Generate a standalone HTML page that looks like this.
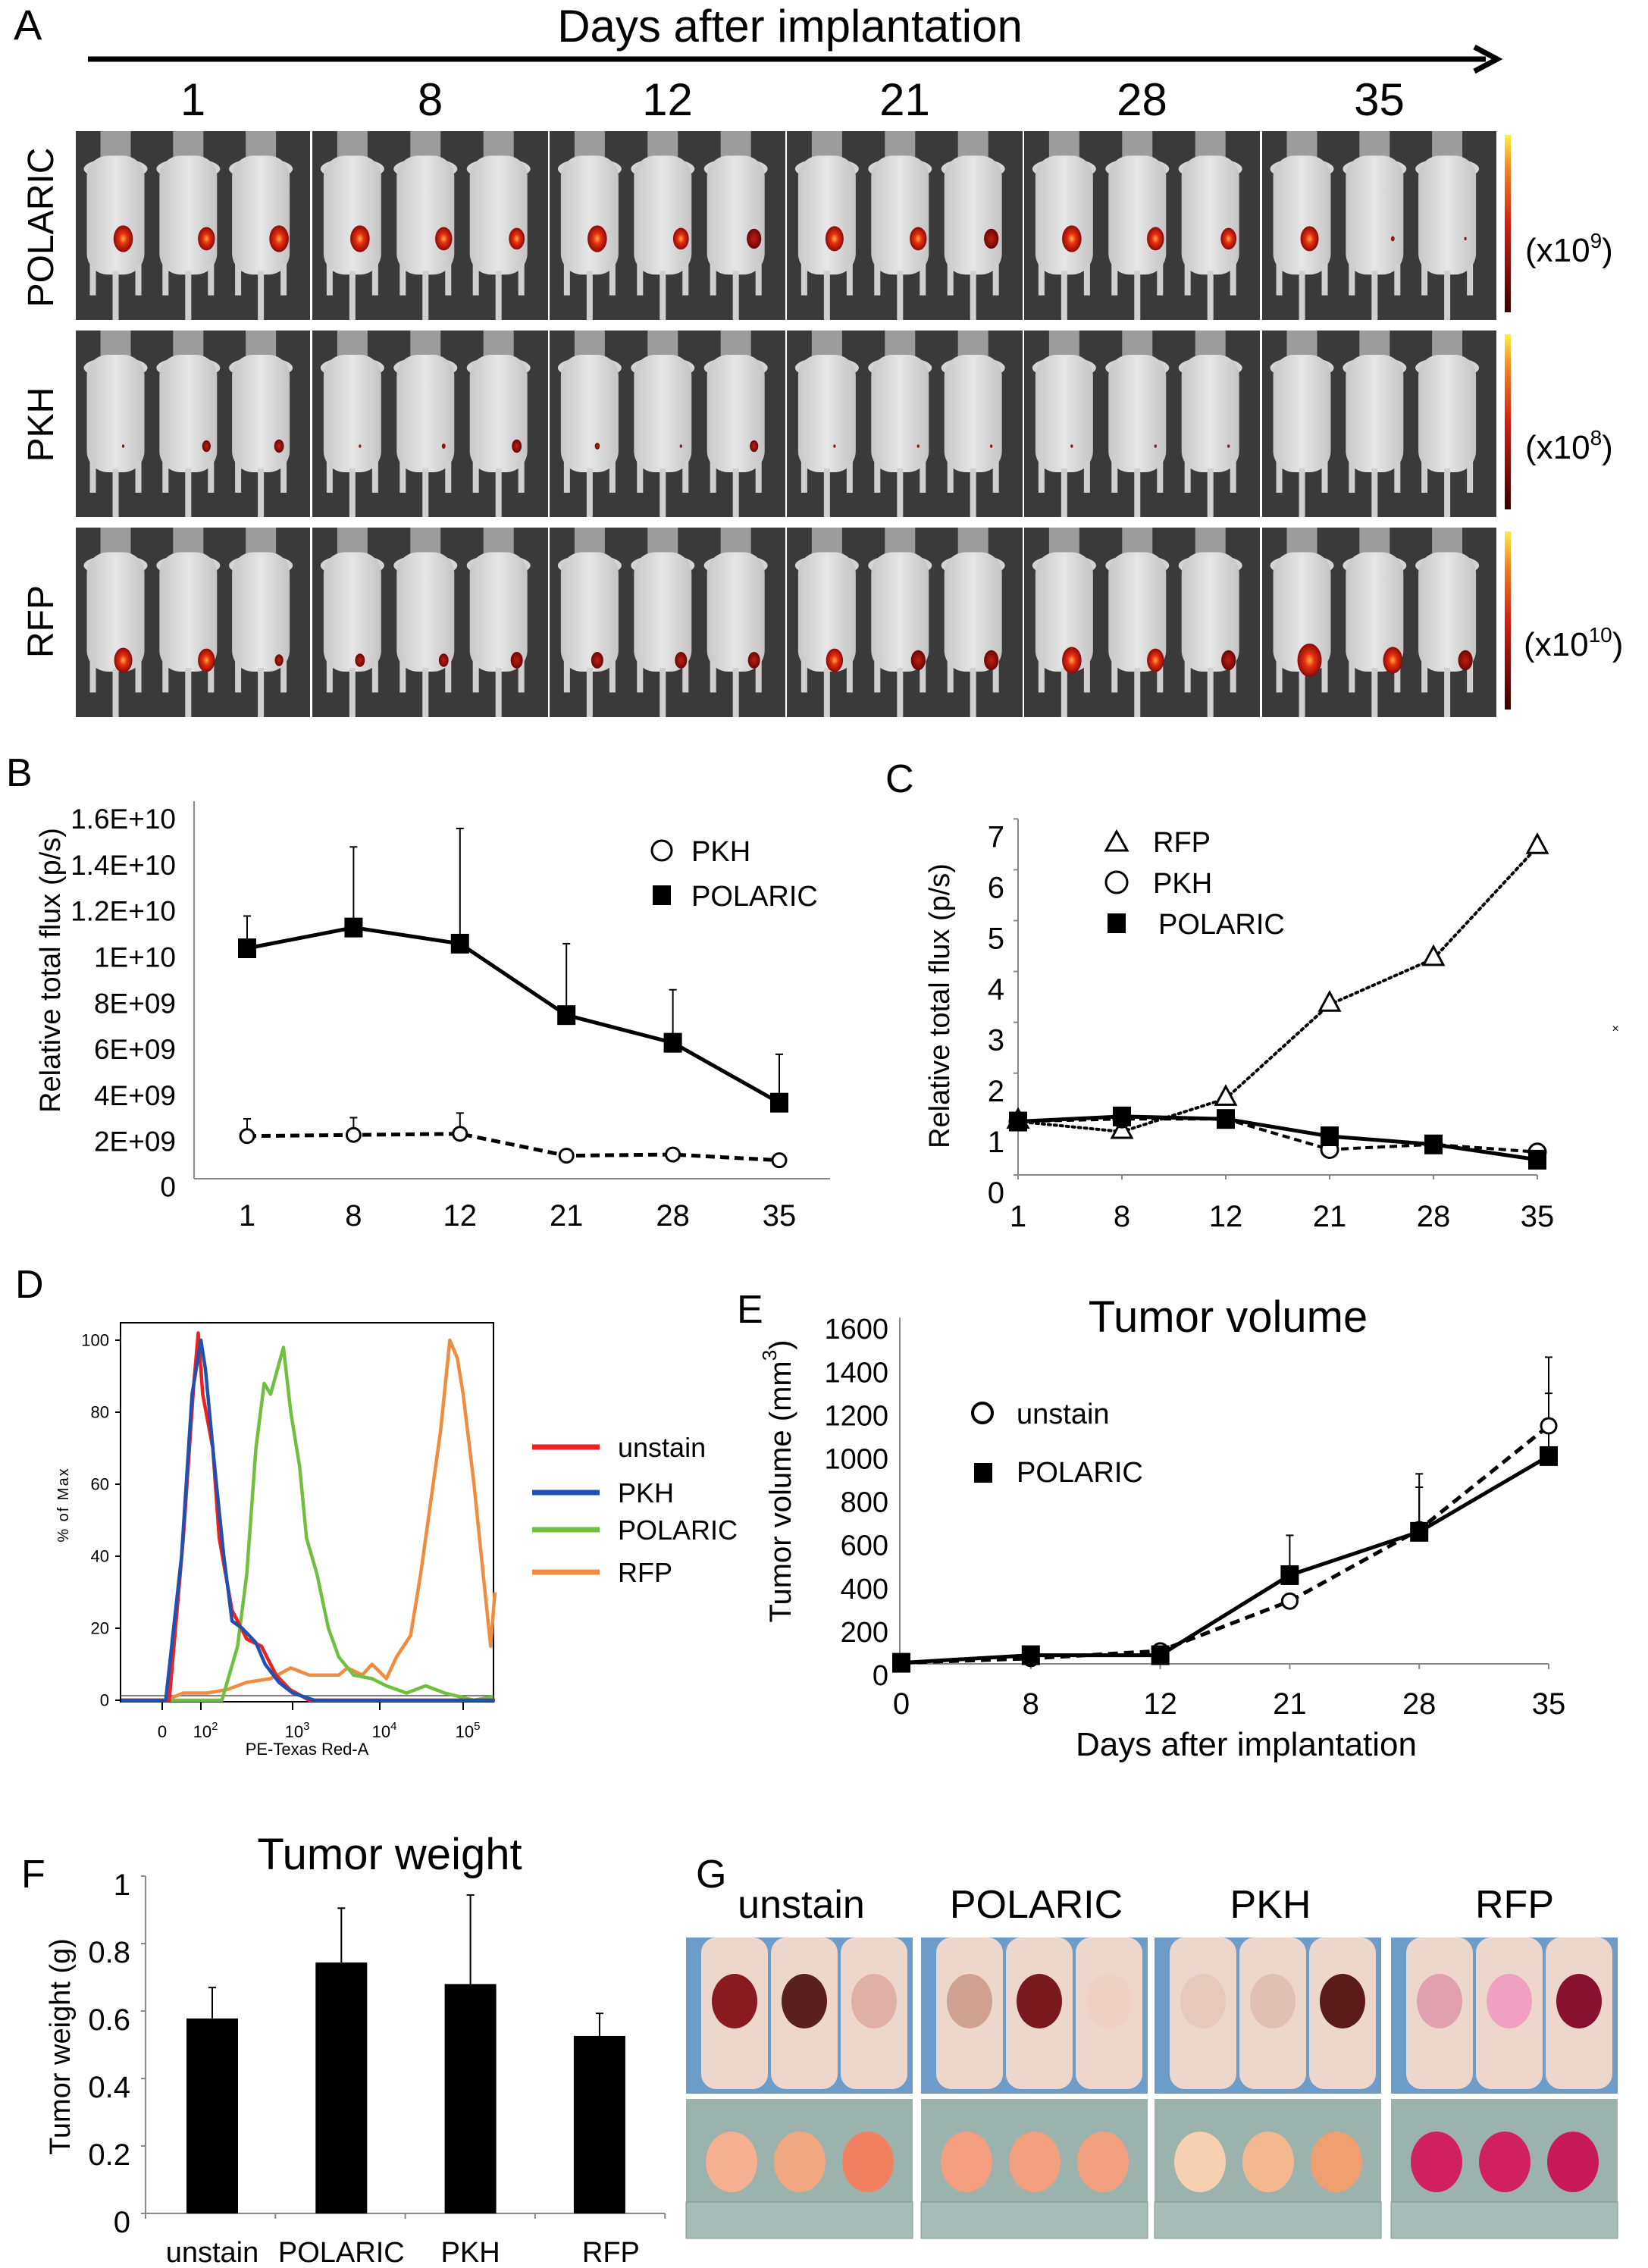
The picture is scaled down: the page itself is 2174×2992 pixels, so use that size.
<!DOCTYPE html>
<html><head><meta charset="utf-8"><style>
html,body{margin:0;padding:0;background:#fff}
svg{display:block}
text{font-family:"Liberation Sans",sans-serif;fill:#000}
</style></head><body>
<svg id="fig" xmlns="http://www.w3.org/2000/svg" width="2174" height="2992" viewBox="0 0 2174 2992">
<defs>
<linearGradient id="cbar" x1="0" y1="1" x2="0" y2="0"><stop offset="0" stop-color="#3a0000"/><stop offset="0.5" stop-color="#d02010"/><stop offset="0.8" stop-color="#f08020"/><stop offset="1" stop-color="#fff040"/></linearGradient>
<radialGradient id="blob"><stop offset="0" stop-color="#ffb040"/><stop offset="0.4" stop-color="#e83010"/><stop offset="1" stop-color="#8a0a08"/></radialGradient>
<radialGradient id="blobd"><stop offset="0" stop-color="#c02010"/><stop offset="1" stop-color="#6a0606"/></radialGradient>
<linearGradient id="mbody" x1="0" y1="0" x2="1" y2="0"><stop offset="0" stop-color="#c8c8c8"/><stop offset="0.5" stop-color="#e6e6e6"/><stop offset="1" stop-color="#c4c4c4"/></linearGradient>
</defs>
<!-- Panel A static -->
<text x="18" y="52" font-size="56">A</text>
<text x="1042" y="55" font-size="60" text-anchor="middle">Days after implantation</text>
<line x1="116" y1="78" x2="1960" y2="78" stroke="#000" stroke-width="7"/>
<polyline points="1945,62 1975,78 1945,94" fill="none" stroke="#000" stroke-width="7"/>
<g id="aGroup"></g>
<text transform="translate(70,300) rotate(-90)" font-size="48" text-anchor="middle">POLARIC</text>
<text transform="translate(70,560) rotate(-90)" font-size="48" text-anchor="middle">PKH</text>
<text transform="translate(70,820) rotate(-90)" font-size="48" text-anchor="middle">RFP</text>
<text x="2012" y="345" font-size="44">(x10<tspan font-size="28" dy="-18">9</tspan><tspan dy="18">)</tspan></text>
<text x="2012" y="605" font-size="44">(x10<tspan font-size="28" dy="-18">8</tspan><tspan dy="18">)</tspan></text>
<text x="2010" y="865" font-size="44">(x10<tspan font-size="28" dy="-18">10</tspan><tspan dy="18">)</tspan></text>

<!-- Panel B static -->
<text x="8" y="1037" font-size="52">B</text>
<text transform="translate(67,1280) rotate(-90)" font-size="38" text-anchor="middle" dominant-baseline="central">Relative total flux (p/s)</text>
<g id="bChart"></g>
<circle cx="873" cy="1122" r="13" fill="#fff" stroke="#000" stroke-width="3"/>
<text x="912" y="1136" font-size="38">PKH</text>
<rect x="861" y="1168" width="24" height="26" fill="#000"/>
<text x="912" y="1195" font-size="38">POLARIC</text>

<!-- Panel C static -->
<text x="1168" y="1045" font-size="52">C</text>
<text transform="translate(1240,1327) rotate(-90)" font-size="38" text-anchor="middle" dominant-baseline="central">Relative total flux (p/s)</text>
<g id="cChart"></g>
<polygon points="1473,1097 1459,1122 1487,1122" fill="#fff" stroke="#000" stroke-width="3"/>
<text x="1521" y="1124" font-size="38">RFP</text>
<circle cx="1473" cy="1164" r="14" fill="#fff" stroke="#000" stroke-width="3"/>
<text x="1521" y="1178" font-size="38">PKH</text>
<rect x="1461" y="1205" width="24" height="26" fill="#000"/>
<text x="1528" y="1232" font-size="38">POLARIC</text>
<text x="2131" y="1362" font-size="16" text-anchor="middle" fill="#555">×</text>

<!-- Panel D static -->
<text x="20" y="1712" font-size="52">D</text>
<text transform="translate(90,1985) rotate(-90)" font-size="20" text-anchor="middle" letter-spacing="2">% of Max</text>
<text x="405" y="2315" font-size="22" text-anchor="middle">PE-Texas Red-A</text>
<g id="dChart"></g>
<line x1="702" y1="1909" x2="791" y2="1909" stroke="#ee2020" stroke-width="7"/>
<text x="815" y="1922" font-size="36">unstain</text>
<line x1="702" y1="1969" x2="791" y2="1969" stroke="#2050b0" stroke-width="7"/>
<text x="815" y="1982" font-size="36">PKH</text>
<line x1="702" y1="2018" x2="791" y2="2018" stroke="#70c040" stroke-width="7"/>
<text x="815" y="2031" font-size="36">POLARIC</text>
<line x1="702" y1="2074" x2="791" y2="2074" stroke="#f08c40" stroke-width="7"/>
<text x="815" y="2087" font-size="36">RFP</text>

<!-- Panel E static -->
<text x="972" y="1745" font-size="52">E</text>
<text x="1620" y="1757" font-size="58" text-anchor="middle">Tumor volume</text>
<text transform="translate(1030,1954) rotate(-90)" font-size="40" text-anchor="middle" dominant-baseline="central">Tumor volume (mm<tspan font-size="26" dy="-15">3</tspan><tspan dy="15">)</tspan></text>
<text x="1644" y="2316" font-size="44" text-anchor="middle">Days after implantation</text>
<g id="eChart"></g>
<circle cx="1296" cy="1864" r="13" fill="#fff" stroke="#000" stroke-width="4"/>
<text x="1341" y="1878" font-size="38">unstain</text>
<rect x="1285" y="1930" width="24" height="26" fill="#000"/>
<text x="1341" y="1955" font-size="38">POLARIC</text>

<!-- Panel F static -->
<text x="28" y="2490" font-size="52">F</text>
<text x="514" y="2466" font-size="58" text-anchor="middle">Tumor weight</text>
<text transform="translate(80,2700) rotate(-90)" font-size="38" text-anchor="middle" dominant-baseline="central">Tumor weight (g)</text>
<g id="fChart"></g>

<!-- Panel G static -->
<text x="918" y="2490" font-size="52">G</text>
<text x="1057" y="2530" font-size="52" text-anchor="middle">unstain</text>
<text x="1367" y="2530" font-size="52" text-anchor="middle">POLARIC</text>
<text x="1676" y="2530" font-size="52" text-anchor="middle">PKH</text>
<text x="1998" y="2530" font-size="52" text-anchor="middle">RFP</text>
<g id="gGroup"></g>
</svg>
<script>
const NS = 'http://www.w3.org/2000/svg';
function mk(tag, attrs, parent) {
  const e = document.createElementNS(NS, tag);
  for (const k in attrs) e.setAttribute(k, attrs[k]);
  parent.appendChild(e);
  return e;
}

// ---------------- Chart B data ----------------
const bDays = ['1', '8', '12', '21', '28', '35'];
const bPolaric = [10.0, 10.9, 10.2, 7.1, 5.9, 3.3];      // x1e9
const bPolaricErr = [11.4, 14.4, 15.2, 10.2, 8.2, 5.4];
const bPkh = [1.85, 1.9, 1.95, 1.0, 1.05, 0.8];
const bPkhErr = [2.6, 2.65, 2.85, 1.0, 1.1, 0.8];
const bTickVals = [0, 2, 4, 6, 8, 10, 12, 14, 16];
const bTickLabels = ['0', '2E+09', '4E+09', '6E+09', '8E+09', '1E+10', '1.2E+10', '1.4E+10', '1.6E+10'];

// ---------------- Chart C data ----------------
const cDays = ['1', '8', '12', '21', '28', '35'];
const cRfp = [1.05, 0.85, 1.5, 3.35, 4.25, 6.45];
const cPkh = [1.05, 1.1, 1.1, 0.5, 0.6, 0.45];
const cPolaric = [1.05, 1.15, 1.1, 0.76, 0.6, 0.3];
const cTicks = [0, 1, 2, 3, 4, 5, 6, 7];

// ---------------- Chart D data (u = log10 intensity) ----------------
const dUnstainU = [1.0, 1.64, 1.8, 1.92, 1.97, 2.02, 2.13, 2.2, 2.34, 2.5, 2.66, 2.82, 2.97, 3.19, 5.38];
const dUnstainV = [0, 0, 45, 88, 102, 85, 70, 45, 25, 17, 15, 7, 3, 0, 0];
const dPkhU = [1.0, 1.6, 1.78, 1.9, 2.0, 2.05, 2.15, 2.25, 2.34, 2.45, 2.6, 2.7, 2.85, 3.0, 3.25, 5.38];
const dPkhV = [0, 0, 40, 85, 100, 92, 65, 40, 22, 20, 16, 10, 5, 2, 0, 0];
const dPolaricU = [1.0, 2.23, 2.4, 2.5, 2.6, 2.69, 2.76, 2.9, 2.98, 3.08, 3.16, 3.28, 3.41, 3.53, 3.7, 3.91, 4.08, 4.32, 4.55, 4.78, 5.13, 5.36];
const dPolaricV = [0, 0, 15, 35, 70, 88, 85, 98, 80, 65, 45, 35, 20, 12, 7, 6, 4, 2, 4, 2, 0, 1];
const dRfpU = [1.0, 1.6, 1.8, 2.07, 2.29, 2.5, 2.76, 2.98, 3.19, 3.53, 3.63, 3.8, 3.91, 4.08, 4.2, 4.37, 4.49, 4.61, 4.73, 4.84, 4.93, 5.0, 5.13, 5.24, 5.33, 5.38];
const dRfpV = [0, 0, 2, 2, 3, 5, 6, 9, 7, 7, 9, 7, 10, 6, 12, 18, 35, 55, 75, 100, 95, 85, 60, 35, 15, 30];
const dYTicks = [0, 20, 40, 60, 80, 100];

// ---------------- Chart E data ----------------
const eDays = ['0', '8', '12', '21', '28', '35'];
const eUnstain = [5, 25, 60, 290, 620, 1100];
const eUnstainErr = [5, 25, 60, 290, 816, 1250];
const ePolaric = [5, 40, 40, 410, 610, 960];
const ePolaricErr = [5, 40, 40, 594, 878, 1417];
const eTicks = [0, 200, 400, 600, 800, 1000, 1200, 1400, 1600];

// ---------------- Chart F data ----------------
const fGroups = ['unstain', 'POLARIC', 'PKH', 'RFP'];
const fWeight = [0.578, 0.744, 0.68, 0.526];
const fErr = [0.67, 0.905, 0.944, 0.593];
const fTicks = ['0', '0.2', '0.4', '0.6', '0.8', '1'];
const fTickVals = [0, 0.2, 0.4, 0.6, 0.8, 1];

// ================= Panel A (imaging) =================
const A = document.getElementById('aGroup');
const aDayLabels = ['1', '8', '12', '21', '28', '35'];
const aColX = [100, 412, 725, 1038, 1351, 1665];
const aColW = [309, 311, 311, 311, 311, 309];
const aRowY = [173, 436, 696];
const aRowH = [249, 246, 250];
const aBlobs = [
  [[16,14,16],[16,14,13],[16,13,12],[15,14,12],[16,14,13],[15,3,2]],
  [[2,7,8],[2,3,8],[4,2,7],[2,2,2],[2,2,2],[0,0,0]],
  [[15,14,7],[8,8,10],[10,10,10],[14,12,12],[16,14,12],[20,16,12]]
];
const aBlobDy = [0.57, 0.62, 0.7];
for (let c = 0; c < 6; c++) {
  const t = mk('text', {x: aColX[c] + aColW[c] / 2, y: 152, 'font-size': 60, 'text-anchor': 'middle'}, A);
  
  
  t.textContent = aDayLabels[c];
  for (let r = 0; r < 3; r++) {
    const bg = mk('rect', {x: aColX[c], y: aRowY[r], width: aColW[c], height: aRowH[r], fill: '#3a3a3a'}, A);
    
    
    for (let m = 0; m < 3; m++) {
      const cx = aColX[c] + aColW[c] * (0.17 + m * 0.31);
      const top = aRowY[r];
      const h = aRowH[r];
      const tube = mk('rect', {x: cx - 20, y: top, width: 40, height: h * 0.16, fill: '#9c9c9c'}, A);
      
      
      const head = mk('ellipse', {cx: cx, cy: top + h * 0.2, rx: 42, ry: 14, fill: '#d4d4d4'}, A);
      
      
      const body = mk('rect', {x: cx - 38, y: top + h * 0.13, width: 76, height: h * 0.63, rx: 28, fill: 'url(#mbody)'}, A);
      
      
      const legL = mk('rect', {x: cx - 34, y: top + h * 0.7, width: 8, height: h * 0.17, fill: '#cfcfcf'}, A);
      
      
      const legR = mk('rect', {x: cx + 26, y: top + h * 0.7, width: 8, height: h * 0.17, fill: '#cfcfcf'}, A);
      
      
      const tail = mk('rect', {x: cx - 4, y: top + h * 0.74, width: 8, height: h * 0.26, fill: '#d0d0d0'}, A);
      
      
      const br = aBlobs[r][c][m];
      if (br > 0) {
        const b = mk('ellipse', {cx: cx + (m === 0 ? 10 : 24), cy: top + h * aBlobDy[r], rx: br * 0.8, ry: br * 1.1, fill: br > 12 ? 'url(#blob)' : 'url(#blobd)'}, A);
        
        
      }
    }
  }
}
for (let r = 0; r < 3; r++) {
  const cb = mk('rect', {x: 1985, y: aRowY[r] + 5, width: 8, height: aRowH[r] - 15, fill: 'url(#cbar)'}, A);
  
  
}

// ================= Chart B =================
const B = document.getElementById('bChart');
const xB = i => 326 + i * 140.4;
const yB = v => 1555 - v * 30.4;
let ln = mk('line', {x1: 256, y1: 1057, x2: 256, y2: 1555, stroke: '#888', 'stroke-width': 2}, B);


ln = mk('line', {x1: 256, y1: 1555, x2: 1095, y2: 1555, stroke: '#888', 'stroke-width': 2}, B);


bTickVals.forEach((v, k) => {
  const t = mk('text', {x: 232, y: yB(v) + (v === 0 ? 11 : 12), 'font-size': 37, 'text-anchor': 'end', 'dominant-baseline': 'central'}, B);
  
  
  t.textContent = bTickLabels[k];
});
bDays.forEach((d, i) => {
  const t = mk('text', {x: xB(i), y: 1617, 'font-size': 40, 'text-anchor': 'middle'}, B);
  
  
  t.textContent = d;
});
function errBar(P, x, y1, y2, name) {
  const l = mk('line', {x1: x, y1: y1, x2: x, y2: y2, stroke: '#000', 'stroke-width': 2}, P);
  
  
  const c = mk('line', {x1: x - 5, y1: y2, x2: x + 5, y2: y2, stroke: '#000', 'stroke-width': 2}, P);
  
  
}
bPolaric.forEach((v, i) => errBar(B, xB(i), yB(v), yB(bPolaricErr[i]), 'b-polaric-error-bar'));
bPkh.forEach((v, i) => { if (bPkhErr[i] > v) errBar(B, xB(i), yB(v), yB(bPkhErr[i]), 'b-pkh-error-bar'); });
let pl = mk('polyline', {points: bPkh.map((v, i) => xB(i) + ',' + yB(v)).join(' '), fill: 'none', stroke: '#000', 'stroke-width': 5, 'stroke-dasharray': '12,7'}, B);


pl = mk('polyline', {points: bPolaric.map((v, i) => xB(i) + ',' + yB(v)).join(' '), fill: 'none', stroke: '#000', 'stroke-width': 5}, B);


bPkh.forEach((v, i) => {
  const c = mk('circle', {cx: xB(i), cy: yB(v), r: 9, fill: '#fff', stroke: '#000', 'stroke-width': 3}, B);
  
  
});
bPolaric.forEach((v, i) => {
  const s = mk('rect', {x: xB(i) - 12, y: yB(v) - 13, width: 24, height: 26, fill: '#000'}, B);
  
  
});

// ================= Chart C =================
const C = document.getElementById('cChart');
const xC = i => 1343 + i * 137;
const yC = v => 1550 - v * 67.1;
ln = mk('line', {x1: 1343, y1: yC(7), x2: 1343, y2: yC(0), stroke: '#888', 'stroke-width': 2}, C);


ln = mk('line', {x1: 1343, y1: yC(0), x2: xC(5), y2: yC(0), stroke: '#888', 'stroke-width': 2}, C);


cTicks.forEach(v => {
  const tk = mk('line', {x1: 1337, y1: yC(v), x2: 1343, y2: yC(v), stroke: '#888', 'stroke-width': 2}, C);
  
  
  const t = mk('text', {x: 1325, y: yC(v) + 24, 'font-size': 40, 'text-anchor': 'end', 'dominant-baseline': 'central'}, C);
  
  
  t.textContent = v;
});
cDays.forEach((d, i) => {
  const tk = mk('line', {x1: xC(i), y1: yC(0), x2: xC(i), y2: yC(0) + 6, stroke: '#888', 'stroke-width': 2}, C);
  
  
  const t = mk('text', {x: xC(i), y: 1618, 'font-size': 40, 'text-anchor': 'middle'}, C);
  
  
  t.textContent = d;
});
pl = mk('polyline', {points: cRfp.map((v, i) => xC(i) + ',' + yC(v)).join(' '), fill: 'none', stroke: '#000', 'stroke-width': 4, 'stroke-dasharray': '3,5', 'stroke-linecap': 'round'}, C);


pl = mk('polyline', {points: cPkh.map((v, i) => xC(i) + ',' + yC(v)).join(' '), fill: 'none', stroke: '#000', 'stroke-width': 4, 'stroke-dasharray': '10,6'}, C);


pl = mk('polyline', {points: cPolaric.map((v, i) => xC(i) + ',' + yC(v)).join(' '), fill: 'none', stroke: '#000', 'stroke-width': 5}, C);


cRfp.forEach((v, i) => {
  const x = xC(i), y = yC(v);
  const p = mk('polygon', {points: (x) + ',' + (y - 16) + ' ' + (x - 13) + ',' + (y + 8) + ' ' + (x + 13) + ',' + (y + 8), fill: '#fff', stroke: '#000', 'stroke-width': 3}, C);
  
  
});
cPkh.forEach((v, i) => {
  const c = mk('circle', {cx: xC(i), cy: yC(v), r: 11, fill: '#fff', stroke: '#000', 'stroke-width': 3}, C);
  
  
});
cPolaric.forEach((v, i) => {
  const s = mk('rect', {x: xC(i) - 12, y: yC(v) - 13, width: 24, height: 26, fill: '#000'}, C);
  
  
});

// ================= Chart D =================
const D = document.getElementById('dChart');
const dAnchorU = [1.0, 1.56, 2, 3, 4, 5, 5.4];
const dAnchorX = [160, 214, 265, 386, 501, 611, 655];
function xD(u) {
  for (let k = 1; k < dAnchorU.length; k++) {
    if (u <= dAnchorU[k]) {
      const f = (u - dAnchorU[k - 1]) / (dAnchorU[k] - dAnchorU[k - 1]);
      return dAnchorX[k - 1] + f * (dAnchorX[k] - dAnchorX[k - 1]);
    }
  }
  return 655;
}
const yD = v => 2243 - v * 4.75;
const box = mk('rect', {x: 159, y: 1745, width: 492, height: 500, fill: 'none', stroke: '#000', 'stroke-width': 2}, D);


ln = mk('line', {x1: 159, y1: 2237, x2: 651, y2: 2237, stroke: '#555', 'stroke-width': 1.5}, D);


dYTicks.forEach(v => {
  const tk = mk('line', {x1: 152, y1: yD(v), x2: 159, y2: yD(v), stroke: '#000', 'stroke-width': 2}, D);
  
  
  const t = mk('text', {x: 144, y: yD(v), 'font-size': 22, 'text-anchor': 'end', 'dominant-baseline': 'central'}, D);
  
  
  t.textContent = v;
});
const dXLabU = [1.56, 2, 3, 4, 5];
const dXLabText = ['0', '10', '10', '10', '10'];
const dXLabExp = ['', '2', '3', '4', '5'];
dXLabU.forEach((u, k) => {
  const tk = mk('line', {x1: xD(u), y1: 2245, x2: xD(u), y2: 2256, stroke: '#000', 'stroke-width': 2}, D);
  
  
  const t = mk('text', {x: xD(u) + (k ? 6 : 0), y: 2292, 'font-size': 22, 'text-anchor': 'middle'}, D);
  
  
  t.textContent = dXLabText[k];
  if (dXLabExp[k]) {
    const s = mk('tspan', {'font-size': 15, dy: -10}, t);
    s.textContent = dXLabExp[k];
  }
});
function dCurve(us, vs, col, name) {
  const p = mk('polyline', {points: us.map((u, i) => xD(u).toFixed(1) + ',' + yD(vs[i]).toFixed(1)).join(' '), fill: 'none', stroke: col, 'stroke-width': 4.5, 'stroke-linejoin': 'round'}, D);
  
  
}
dCurve(dRfpU, dRfpV, '#f08c40', 'd-rfp-histogram');
dCurve(dPolaricU, dPolaricV, '#70c040', 'd-polaric-histogram');
dCurve(dUnstainU, dUnstainV, '#ee2020', 'd-unstain-histogram');
dCurve(dPkhU, dPkhV, '#2050b0', 'd-pkh-histogram');

// ================= Chart E =================
const E = document.getElementById('eChart');
const xE = i => 1189 + i * 170.8;
const yE = v => 2195 - v * 0.2855;
ln = mk('line', {x1: 1187, y1: yE(1600), x2: 1187, y2: yE(0), stroke: '#888', 'stroke-width': 2}, E);


ln = mk('line', {x1: 1187, y1: yE(0), x2: xE(5), y2: yE(0), stroke: '#888', 'stroke-width': 2}, E);


eTicks.forEach(v => {
  const t = mk('text', {x: 1172, y: yE(v) + 16, 'font-size': 38, 'text-anchor': 'end', 'dominant-baseline': 'central'}, E);
  
  
  t.textContent = v;
});
eDays.forEach((d, i) => {
  const tk = mk('line', {x1: xE(i), y1: yE(0), x2: xE(i), y2: yE(0) + 7, stroke: '#888', 'stroke-width': 2}, E);
  
  
  const t = mk('text', {x: xE(i), y: 2261, 'font-size': 40, 'text-anchor': 'middle'}, E);
  
  
  t.textContent = d;
});
ePolaric.forEach((v, i) => { if (ePolaricErr[i] > v) errBar(E, xE(i), yE(v), yE(ePolaricErr[i]), 'e-polaric-error-bar'); });
eUnstain.forEach((v, i) => { if (eUnstainErr[i] > v) errBar(E, xE(i), yE(v), yE(eUnstainErr[i]), 'e-unstain-error-bar'); });
pl = mk('polyline', {points: eUnstain.map((v, i) => xE(i) + ',' + yE(v)).join(' '), fill: 'none', stroke: '#000', 'stroke-width': 5, 'stroke-dasharray': '13,8'}, E);


pl = mk('polyline', {points: ePolaric.map((v, i) => xE(i) + ',' + yE(v)).join(' '), fill: 'none', stroke: '#000', 'stroke-width': 5}, E);


eUnstain.forEach((v, i) => {
  const c = mk('circle', {cx: xE(i), cy: yE(v), r: 10, fill: '#fff', stroke: '#000', 'stroke-width': 3}, E);
  
  
});
ePolaric.forEach((v, i) => {
  const s = mk('rect', {x: xE(i) - 12, y: yE(v) - 13, width: 24, height: 26, fill: '#000'}, E);
  
  
});

// ================= Chart F =================
const F = document.getElementById('fChart');
const xF = i => 280 + i * 170.3;
const yF = v => 2920 - v * 445;
ln = mk('line', {x1: 192, y1: yF(1), x2: 192, y2: yF(0), stroke: '#888', 'stroke-width': 2}, F);


ln = mk('line', {x1: 187, y1: yF(0), x2: 877, y2: yF(0), stroke: '#888', 'stroke-width': 2}, F);


fTickVals.forEach((v, k) => {
  const tk = mk('line', {x1: 186, y1: yF(v), x2: 192, y2: yF(v), stroke: '#888', 'stroke-width': 2}, F);
  
  
  const t = mk('text', {x: 172, y: yF(v) + 12, 'font-size': 40, 'text-anchor': 'end', 'dominant-baseline': 'central'}, F);
  
  
  t.textContent = fTicks[k];
});
for (let k = 0; k <= 4; k++) {
  const tk = mk('line', {x1: 192 + k * 171.3, y1: yF(0), x2: 192 + k * 171.3, y2: yF(0) + 7, stroke: '#888', 'stroke-width': 2}, F);
  
  
}
fGroups.forEach((g, i) => {
  errBar(F, xF(i), yF(fWeight[i]), yF(fErr[i]), 'f-error-bar');
  const b = mk('rect', {x: xF(i) - 34, y: yF(fWeight[i]), width: 68, height: yF(0) - yF(fWeight[i]), fill: '#000'}, F);
  
  
  const t = mk('text', {x: xF(i) + (i === 3 ? 15 : 0), y: 2984, 'font-size': 38, 'text-anchor': 'middle'}, F);
  
  
  t.textContent = g;
});

// ================= Panel G photos =================
const G = document.getElementById('gGroup');
const gX = [905, 1215, 1523, 1835];
const gW = 299;
const tumorTop = [['#8a1a20','#5a2020','#e0b0a8'],['#d0a090','#7a1a20','#eed0c4'],['#e6c8bc','#e0c0b4','#5a1a1a'],['#e0a0b0','#f0a0c0','#8a1030']];
const tumorBot = [['#f4b090','#f2a882','#f08060'],['#f4a080','#f3a080','#f2a080'],['#f6d0b0','#f4b890','#f0a070'],['#d02060','#d02060','#c81a58']];
for (let c = 0; c < 4; c++) {
  const top = mk('rect', {x: gX[c], y: 2556, width: gW, height: 206, fill: '#6e9cc8'}, G);
  
  
  for (let m = 0; m < 3; m++) {
    const mx = gX[c] + 20 + m * 92;
    const body = mk('rect', {x: mx, y: 2556, width: 88, height: 200, rx: 20, fill: '#edd6cc'}, G);
    
    
    const tu = mk('ellipse', {cx: mx + 44, cy: 2640, rx: 30, ry: 36, fill: tumorTop[c][m]}, G);
    
    
  }
  const bot = mk('rect', {x: gX[c], y: 2769, width: gW, height: 184, fill: '#9cb2ac'}, G);
  
  
  const ruler = mk('rect', {x: gX[c], y: 2905, width: gW, height: 48, fill: '#a8bcb8', stroke: '#7f9490', 'stroke-width': 1}, G);
  
  
  for (let m = 0; m < 3; m++) {
    const tu = mk('ellipse', {cx: gX[c] + 60 + m * 90, cy: 2852, rx: 34, ry: 40, fill: tumorBot[c][m]}, G);
    
    
  }
}
</script>
</body></html>
